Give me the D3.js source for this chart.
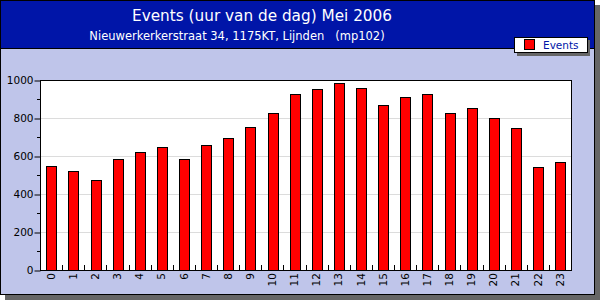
<!DOCTYPE html>
<html>
<head>
<meta charset="utf-8">
<script src="https://cdn.jsdelivr.net/npm/d3@7"></script>
<style>
  body { margin: 0; background: #fff; }
  svg text { font-family: "DejaVu Sans", Verdana, sans-serif; }
</style>
</head>
<body>
<div id="chart"></div>
<script>
// hours of the day and event counts
const hours = ["0","1","2","3","4","5","6","7","8","9","10","11","12","13","14","15","16","17","18","19","20","21","22","23"];
const events = [548, 521, 474, 584, 619, 646, 584, 656, 693, 751, 826, 926, 951, 982, 956, 868, 909, 926, 826, 851, 798, 746, 540, 567];
const yTicks = [0, 200, 400, 600, 800, 1000];

const W = 600, H = 300;
const margin = {left: 40, top: 80, right: 571, bottom: 270};

const svg = d3.select("#chart").append("svg")
  .attr("width", W).attr("height", H);

// shadow + frame
svg.append("rect").attr("x", 5).attr("y", 5).attr("width", 595).attr("height", 295).attr("fill", "#666");
svg.append("rect").attr("x", 0.5).attr("y", 0.5).attr("width", 594).attr("height", 294)
  .attr("fill", "#bfc5ea").attr("stroke", "#000");

// header
svg.append("rect").attr("x", 1).attr("y", 1).attr("width", 593).attr("height", 47).attr("fill", "#0015a8");
svg.append("line").attr("x1", 1).attr("x2", 594).attr("y1", 48.5).attr("y2", 48.5).attr("stroke", "#000");

svg.append("text").attr("x", 262).attr("y", 21).attr("text-anchor", "middle")
  .attr("fill", "#fff").attr("font-size", 16)
  .attr("textLength", 260).attr("lengthAdjust", "spacingAndGlyphs")
  .text("Events (uur van de dag) Mei 2006");
svg.append("text").attr("x", 237).attr("y", 40).attr("text-anchor", "middle")
  .attr("fill", "#fff").attr("font-size", 11.5).style("white-space", "pre")
  .text("Nieuwerkerkerstraat 34, 1175KT, Lijnden   (mp102)");

// scales
const x = d3.scaleBand().domain(hours).range([margin.left, margin.right]).paddingInner(0.57).paddingOuter(0.285);
const y = d3.scaleLinear().domain([0, 1000]).range([margin.bottom, margin.top]);

// plot area
svg.append("rect").attr("x", margin.left).attr("y", margin.top)
  .attr("width", margin.right - margin.left).attr("height", margin.bottom - margin.top).attr("fill", "#fff");

// grid
svg.append("g").selectAll("line").data(yTicks.filter(d => d > 0 && d < 1000)).join("line")
  .attr("x1", margin.left).attr("x2", margin.right)
  .attr("y1", d => Math.round(y(d)) + 0.5).attr("y2", d => Math.round(y(d)) + 0.5)
  .attr("stroke", "#dcdcdc");

// bars
svg.append("g").selectAll("rect").data(events).join("rect")
  .attr("x", (d, i) => Math.round(x(hours[i])) + 0.5)
  .attr("y", d => Math.round(y(d)) + 0.5)
  .attr("width", Math.round(x.bandwidth()))
  .attr("height", d => margin.bottom - Math.round(y(d)))
  .attr("fill", "#ff0000").attr("stroke", "#000");

// plot border
svg.append("rect").attr("x", margin.left + 0.5).attr("y", margin.top + 0.5)
  .attr("width", margin.right - margin.left).attr("height", margin.bottom - margin.top)
  .attr("fill", "none").attr("stroke", "#000");

// y axis
const yAxis = d3.axisLeft(y).tickValues(yTicks).tickFormat(d3.format("d")).tickSize(6).tickPadding(1);
const gy = svg.append("g").attr("transform", `translate(${margin.left + 0.5},0.5)`).call(yAxis);
gy.select(".domain").remove();
gy.selectAll("text").attr("font-size", 10.5).attr("font-family", "DejaVu Sans").attr("fill", "#000");
gy.selectAll(".tick line").attr("stroke", "#000");
const minor = d3.range(100, 1000, 200);
svg.append("g").selectAll("line").data(minor).join("line")
  .attr("x1", margin.left - 3).attr("x2", margin.left)
  .attr("y1", d => Math.round(y(d)) + 0.5).attr("y2", d => Math.round(y(d)) + 0.5)
  .attr("stroke", "#000");

// x ticks between bars
const step = x.step();
svg.append("g").selectAll("line").data(hours.slice(1)).join("line")
  .attr("x1", d => Math.round(x(d) - x.padding() * step / 2) + 0.5)
  .attr("x2", d => Math.round(x(d) - x.padding() * step / 2) + 0.5)
  .attr("y1", margin.bottom - 5).attr("y2", margin.bottom)
  .attr("stroke", "#000");

// x labels
svg.append("g").selectAll("text").data(hours).join("text")
  .attr("transform", d => `translate(${x(d) + x.bandwidth() / 2},273) rotate(-90)`)
  .attr("text-anchor", "end").attr("dy", "0.35em")
  .attr("font-size", 10.5).attr("fill", "#000").text(d => d);

// legend
const lg = svg.append("g").attr("transform", "translate(514,37)");
lg.append("rect").attr("x", 3).attr("y", 3).attr("width", 73).attr("height", 16).attr("fill", "#666");
lg.append("rect").attr("x", 0.5).attr("y", 0.5).attr("width", 73).attr("height", 15).attr("fill", "#fff").attr("stroke", "#000");
lg.append("rect").attr("x", 10.5).attr("y", 2.5).attr("width", 10).attr("height", 10).attr("fill", "#ff0000").attr("stroke", "#000");
lg.append("text").attr("x", 29).attr("y", 12).attr("font-size", 10.5).attr("fill", "#0015a8").text("Events");
</script>
</body>
</html>
